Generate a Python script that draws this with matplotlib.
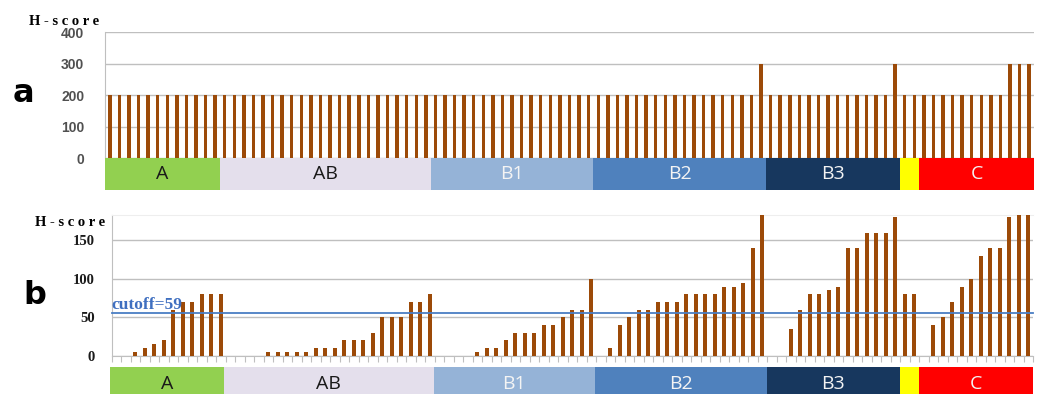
import matplotlib
matplotlib.use('Agg')
import matplotlib.pyplot as plt
import numpy as np

# categories (grade groups) and how many cases each one holds
groups = ['A', 'AB', 'B1', 'B2', 'B3', '', 'C']
group_sizes = [12, 22, 17, 18, 14, 2, 12]
group_colors = ['#92D050', '#E4DFEC', '#95B3D7', '#4F81BD', '#17375E', '#FFFF00', '#FF0000']
group_text = ['#1a1a1a', '#1a1a1a', '#F4F4F4', '#F4F4F4', '#F4F4F4', '#F4F4F4', '#F4F4F4']

# panel a: H-score per case
a_A = [200, 200, 200, 200, 200, 200, 200, 200, 200, 200, 200, 200]
a_AB = [200, 200, 200, 200, 200, 200, 200, 200, 200, 200, 200,
        200, 200, 200, 200, 200, 200, 200, 200, 200, 200, 200]
a_B1 = [200, 200, 200, 200, 200, 200, 200, 200, 200, 200, 200, 200, 200, 200, 200, 200, 200]
a_B2 = [200, 200, 200, 200, 200, 200, 200, 200, 200, 200, 200, 200, 200, 200, 200, 200, 200, 300]
a_B3 = [200, 200, 200, 200, 200, 200, 200, 200, 200, 200, 200, 200, 200, 300]
a_Y = [200, 200]
a_C = [200, 200, 200, 200, 200, 200, 200, 200, 200, 300, 300, 300]

# panel b: H-score per case
b_A = [0, 0, 5, 10, 15, 20, 60, 70, 70, 80, 80, 80]
b_AB = [0, 0, 0, 0, 5, 5, 5, 5, 5, 10, 10, 10, 20, 20, 20, 30, 50, 50, 50, 70, 70, 80]
b_B1 = [0, 0, 0, 0, 5, 10, 10, 20, 30, 30, 30, 40, 40, 50, 60, 60, 100]
b_B2 = [0, 10, 40, 50, 60, 60, 70, 70, 70, 80, 80, 80, 80, 90, 90, 95, 140, 190]
b_B3 = [0, 0, 35, 60, 80, 80, 85, 90, 140, 140, 160, 160, 160, 180]
b_Y = [80, 80]
b_C = [0, 40, 50, 70, 90, 100, 130, 140, 140, 180, 190, 190]

cutoff_label = 'cutoff=59'
cutoff_drawn = 55

bar_color = '#9C4A08'
W, H = 1044, 394


def rect(l, t, r, b):
    return [l / W, 1 - b / H, (r - l) / W, (b - t) / H]


def draw_blocks(ax, n):
    ax.set_xlim(-0.5, n - 0.5)
    ax.set_ylim(0, 1)
    ax.axis('off')
    start = 0
    for g, size, c, tc in zip(groups, group_sizes, group_colors, group_text):
        ax.bar(start - 0.5, 1, width=size, align='edge', color=c, bottom=0)
        ax.text(start - 0.5 + size / 2, 0.5, g, ha='center', va='center',
                fontsize=14, color=tc, family='Open Sans')
        start += size


fig = plt.figure(figsize=(W / 100, H / 100), dpi=100)

# ---------- panel a ----------
score_a = a_A + a_AB + a_B1 + a_B2 + a_B3 + a_Y + a_C
n = len(score_a)
x = np.arange(n)

ax1 = fig.add_axes(rect(105, 32.3, 1034, 158.3))
ax1.bar(x, score_a, width=0.36, color=bar_color, zorder=3)
ax1.set_xlim(-0.5, n - 0.5)
ax1.set_ylim(0, 400)
ax1.set_yticks([0, 100, 200, 300, 400])
ax1.set_xticks([])
ax1.grid(axis='y', color='#BFBFBF', lw=1, zorder=0)
for s in ['top', 'right', 'bottom']:
    ax1.spines[s].set_visible(False)
ax1.spines['left'].set_color('#BFBFBF')
ax1.tick_params(axis='y', length=0, pad=15)
for t in ax1.get_yticklabels():
    t.set_fontsize(10)
    t.set_fontweight('bold')
    t.set_color('#505050')
    t.set_family('Liberation Sans')

blk1 = fig.add_axes(rect(105, 158.3, 1034, 189.5))
draw_blocks(blk1, n)

# ---------- panel b ----------
score_b = b_A + b_AB + b_B1 + b_B2 + b_B3 + b_Y + b_C

ax2 = fig.add_axes(rect(111.7, 215, 1033, 355.7))
ax2.bar(x, score_b, width=0.42, color=bar_color, zorder=3)
ax2.set_xlim(-0.5, n - 0.5)
ax2.set_ylim(0, 183)
ax2.set_yticks([0, 50, 100, 150])
ax2.set_xticks(np.arange(n + 1) - 0.5)
ax2.set_xticklabels([])
ax2.grid(axis='y', color='#BFBFBF', lw=1, zorder=0)
ax2.spines['right'].set_visible(False)
ax2.spines['top'].set_color('#EEEEEE')
ax2.spines['left'].set_color('#BFBFBF')
ax2.spines['bottom'].set_color('#BFBFBF')
ax2.tick_params(axis='x', length=4, color='#BFBFBF', direction='out')
ax2.tick_params(axis='y', length=0, pad=12)
for t in ax2.get_yticklabels():
    t.set_fontsize(10.5)
    t.set_fontweight('bold')
    t.set_color('#1a1a1a')
    t.set_family('Liberation Serif')
ax2.axhline(cutoff_drawn, color='#4A7EC4', lw=1.3, zorder=4, clip_on=False)
ax2.text(0.0, cutoff_drawn + 0.5, cutoff_label, color='#3F6FC0', fontsize=12.5,
         fontweight='bold', family='Liberation Serif', ha='left', va='bottom',
         transform=ax2.get_yaxis_transform(), zorder=5)

blk2 = fig.add_axes(rect(110, 366.5, 1033, 402))
draw_blocks(blk2, n)

# ---------- labels ----------
fig.text(29 / W, 1 - 21.5 / H, 'H - s c o r e', fontsize=10.5, fontweight='bold',
         family='Liberation Serif', ha='left', va='center')
fig.text(35 / W, 1 - 222.5 / H, 'H - s c o r e', fontsize=10.5, fontweight='bold',
         family='Liberation Serif', ha='left', va='center')
fig.text(23.5 / W, 1 - 93 / H, 'a', fontsize=23, fontweight='heavy',
         family='DejaVu Sans', ha='center', va='center')
fig.text(35 / W, 1 - 296 / H, 'b', fontsize=23, fontweight='heavy',
         family='DejaVu Sans', ha='center', va='center')

fig.savefig('out.png', dpi=100)
